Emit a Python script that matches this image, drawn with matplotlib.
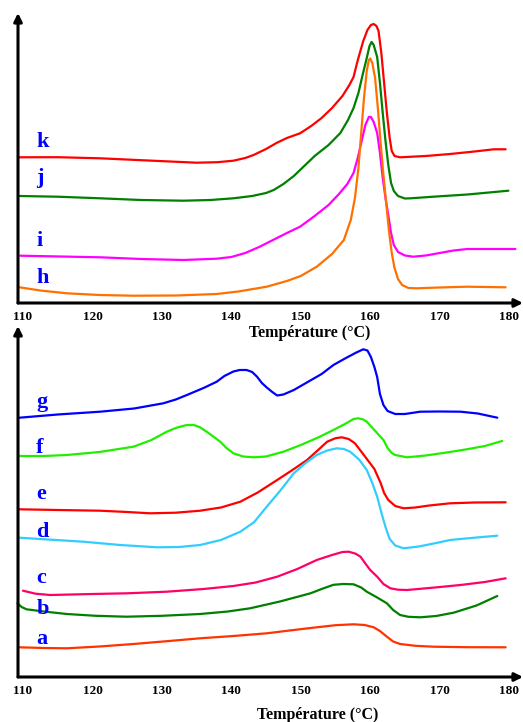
import matplotlib
matplotlib.use("Agg")
import matplotlib.pyplot as plt

# ---- donnees (T en degC, signal en unites arbitraires) ----
ticks = [110, 120, 130, 140, 150, 160, 170, 180]
xlabel = "Température (°C)"

# panneau du haut
k_T = [109.5, 115, 121.1, 128, 135.0, 138, 140.3, 142, 143.2, 145, 146.5, 148, 149.9, 151.5, 153, 154.5, 156, 157, 157.6, 158.1, 158.5, 159, 159.6, 160.1, 160.5, 160.9, 161.2, 161.6, 162.0, 162.4, 162.8, 163.1, 163.5, 164.3, 168, 171.5, 175, 177.8, 179.5]
k_y = [145.7, 145.8, 144.7, 142.5, 140.3, 140.8, 142.3, 145, 148, 154, 160, 165, 169.7, 177, 185, 195, 207, 218, 226, 240, 250, 262, 273, 278, 279, 277, 272, 250, 220, 190, 165, 152, 147, 145.7, 147, 149, 151.5, 153.7, 153.7]
j_T = [109.5, 115, 121.1, 127, 133.1, 137, 140.3, 143, 145, 146.1, 147.5, 149, 149.9, 152, 154, 155.7, 156.8, 157.6, 158.3, 158.9, 159.5, 159.9, 160.2, 160.5, 161.0, 161.4, 161.8, 162.2, 162.6, 163.0, 163.4, 164.0, 165.0, 165.8, 169.1, 174, 179.9]
j_y = [107, 106.3, 104.7, 103, 102.3, 103, 104.7, 107, 110, 113, 119, 127, 133, 147, 158, 170, 183, 195, 210, 228, 245, 257, 261, 258, 246, 220, 190, 162, 138, 120, 112, 107, 104.5, 104.7, 106.3, 108.5, 112.3]
i_T = [109.6, 121.1, 127, 133.1, 137.9, 140, 142, 144, 146, 148, 149.9, 152, 154, 155.5, 156.7, 157.6, 158.2, 158.8, 159.3, 159.8, 160.1, 160.5, 161.0, 161.4, 161.8, 162.2, 162.6, 163.0, 163.4, 164.0, 165, 166.2, 168, 170, 172, 174, 180.9]
i_y = [47.3, 45.7, 44, 43, 44.3, 46, 50, 56, 63, 70, 76.3, 87, 98, 109, 119, 130, 145, 163, 178, 186, 186, 181, 170, 150, 125, 105, 88, 70, 58, 51, 47.5, 46.3, 47.5, 50, 52.5, 54, 54]
h_T = [109.5, 112.5, 116.3, 121, 125.9, 132, 137.9, 141, 145.1, 148, 150, 152.3, 154.5, 156.2, 157.2, 157.8, 158.3, 158.7, 159.1, 159.5, 159.8, 160.0, 160.3, 160.7, 161.1, 161.5, 161.9, 162.3, 162.7, 163.1, 163.5, 164.0, 164.6, 165.5, 166.7, 170, 173.9, 179.5]
h_y = [15.7, 12.5, 9.7, 8, 7.3, 7.5, 9, 11.5, 16.3, 22, 27, 36.3, 49, 63, 83, 105, 135, 170, 205, 232, 243, 244.5, 240, 225, 195, 160, 128, 100, 72, 50, 35, 24, 18, 15, 14.7, 15.5, 16.3, 15.7]

# panneau du bas
g_T = [109.5, 115, 121.1, 126, 130.2, 132, 133.6, 136, 137.9, 139, 140.3, 141.2, 142.2, 143.0, 143.7, 144.4, 145.1, 145.9, 146.6, 147.5, 149.0, 151, 153, 154.7, 156.5, 158.0, 159.0, 159.6, 160.1, 160.6, 161.0, 161.4, 161.9, 162.5, 163.6, 165, 167.2, 170, 173, 175.5, 178.3]
g_y = [259.3, 262.5, 265.3, 268.5, 273.7, 277.5, 282, 289, 295.3, 301, 305.5, 307, 307, 305, 300.3, 294, 289.5, 285, 281.5, 282.5, 287, 295, 303, 312, 319, 324.5, 327.7, 326.5, 320, 310, 300, 283, 272, 266, 263, 263, 265.3, 265.5, 265.3, 263.5, 259.3]
f_T = [109.5, 113, 116.3, 121, 125.9, 128.5, 130.7, 132.2, 133.6, 134.6, 135.5, 136.5, 137.5, 138.4, 139.3, 140.3, 141.7, 143.2, 145, 147.5, 150, 152.5, 154.7, 156.5, 157.6, 158.3, 159.0, 159.5, 160.6, 161.5, 161.9, 162.5, 163.1, 163.6, 165.3, 168, 171, 173.9, 176.5, 179.0]
f_y = [221, 221, 222, 225, 230.3, 237, 245.3, 249.5, 252, 252, 249.7, 245, 240, 235.3, 229, 223.7, 220.5, 219.7, 220.5, 225.3, 232, 239.5, 247, 253.5, 258, 258.7, 257.5, 255.3, 247, 240, 237, 229, 224, 222, 219.7, 221.5, 224.5, 227.7, 231, 236]
e_T = [109.5, 115, 121.1, 125, 128.3, 132, 135.5, 138.5, 141.3, 143.8, 146.6, 148.8, 150.9, 152.5, 153.8, 155.0, 155.9, 156.9, 157.8, 159.3, 160.6, 161.5, 162.0, 162.6, 163.6, 164.8, 166.5, 168.5, 171.5, 175, 179.5]
e_y = [167.7, 167, 166.3, 165, 163.7, 164.3, 166.3, 169.5, 175.3, 184.5, 197, 207, 217, 227, 235.3, 238.8, 239.7, 238, 233.7, 220, 208, 194, 184, 177, 171, 168.7, 169.5, 171.5, 173.7, 174.5, 174.7]
d_T = [109.5, 114, 118.7, 124, 129.3, 132.5, 135.5, 138.5, 141.3, 143.3, 145.1, 147, 149.0, 150.7, 152.3, 153.8, 155.2, 156.2, 157.1, 158.4, 159.5, 160.3, 161.0, 161.7, 162.2, 162.8, 163.6, 164.8, 167, 169.5, 171.5, 175, 178.3]
d_y = [139.3, 137.3, 135.3, 132, 129.7, 130, 132, 137, 145.3, 155, 170.3, 186, 203.7, 214, 222, 226.5, 228.7, 228, 225.3, 217.5, 207, 194, 180.3, 162, 150, 138, 131.5, 128.7, 130.5, 134, 137, 139.3, 141.3]
c_T = [110.0, 111.8, 113.9, 120, 125, 130.7, 136, 140.3, 143.5, 146.6, 149.5, 152.3, 154.5, 156.0, 156.9, 157.9, 158.6, 159.3, 160.0, 161.0, 161.9, 162.9, 164, 165.3, 169, 173.0, 176.5, 179.5]
c_y = [86.3, 83.3, 82, 83, 83.7, 85.3, 88, 91, 94.5, 100.3, 108, 117, 122, 125, 125.3, 123.3, 120.3, 113.5, 107, 100.3, 93, 88.7, 87.3, 87, 89.3, 92, 95, 98.7]
b_T = [109.2, 109.8, 110.5, 113, 116.3, 120.5, 124.9, 130, 135.5, 139.5, 142.7, 147, 151.4, 153.0, 154.7, 156.1, 157.6, 158.7, 159.5, 161.0, 162.4, 163.3, 164.3, 165.5, 167.2, 169.5, 172.0, 175.3, 178.3]
b_y = [73.7, 70, 67.7, 65.5, 63, 61.2, 60.3, 61.2, 63, 65.5, 68.7, 75.5, 83.7, 88, 92.2, 93, 92.7, 89.5, 85.3, 79.5, 73.7, 67, 62, 60.2, 59.7, 61, 64.3, 71.5, 81]
a_T = [109.5, 113, 116.3, 121, 125.9, 130.7, 135.5, 140.3, 145.1, 148.5, 152.3, 155, 157.6, 159.2, 160.5, 161.4, 162.4, 163.3, 164.3, 166.5, 169.1, 174, 179.5]
a_y = [29.7, 29, 28.7, 30.5, 33, 35.8, 38.7, 41, 43.7, 46.6, 49.7, 51.8, 52.7, 52, 49.7, 46, 40.3, 35.5, 33, 31.2, 30.3, 29.8, 29.7]

# (nom, T, signal, couleur, hauteur de l'etiquette)
top_series = [("k", k_T, k_y, "#ff0000", 156), ("j", j_T, j_y, "#008000", 120),
              ("i", i_T, i_y, "#ff00ff", 57), ("h", h_T, h_y, "#ff7000", 20)]
bot_series = [("g", g_T, g_y, "#0000ff", 270), ("f", f_T, f_y, "#22ee00", 224),
              ("e", e_T, e_y, "#ff0000", 178), ("d", d_T, d_y, "#33ccff", 140),
              ("c", c_T, c_y, "#ff0066", 94), ("b", b_T, b_y, "#008000", 63),
              ("a", a_T, a_y, "#ff3300", 33)]

W, H = 523, 722
fig = plt.figure(figsize=(W / 100, H / 100), dpi=100)

x0, x1 = 109.28, 182.0
serif = ["Liberation Serif", "DejaVu Serif"]


def panel(bottom_px, top_px, series, label_xy):
    ax = fig.add_axes([18 / W, 1 - bottom_px / H, 1 - 18 / W, (bottom_px - top_px) / H])
    ax.set_xlim(x0, x1)
    ax.set_ylim(0, bottom_px - top_px)
    for s in ax.spines.values():
        s.set_visible(False)
    ax.set_yticks([])
    ax.set_xticks(ticks)
    ax.set_xticklabels([str(t) for t in ticks], family=serif, fontweight="bold", fontsize=9.5)
    ax.tick_params(axis="x", length=0, pad=6)
    # axes avec fleches
    for end in [(1.0, 0), (0, 1.0)]:
        ax.annotate("", xy=end, xytext=(0, 0), xycoords="axes fraction",
                    arrowprops=dict(arrowstyle="-|>", lw=2.2, color="black", mutation_scale=12,
                                    shrinkA=0, shrinkB=0), annotation_clip=False)
    for name, T, y, col, ly in series:
        ax.plot(T, y, color=col, lw=1.6, solid_joinstyle="round", solid_capstyle="round", clip_on=False)
        ax.text(111.9, ly, name, color="#0000ff", family=serif, fontweight="bold",
                fontsize=16, ha="left", va="baseline")
    fig.text(label_xy[0] / W, 1 - label_xy[1] / H, xlabel, family=serif, fontweight="bold",
             fontsize=11.5, ha="center", va="center")
    return ax


panel(303, 13, top_series, (310, 333))
panel(677, 326, bot_series, (318, 715))

fig.savefig("out.png", dpi=100)
